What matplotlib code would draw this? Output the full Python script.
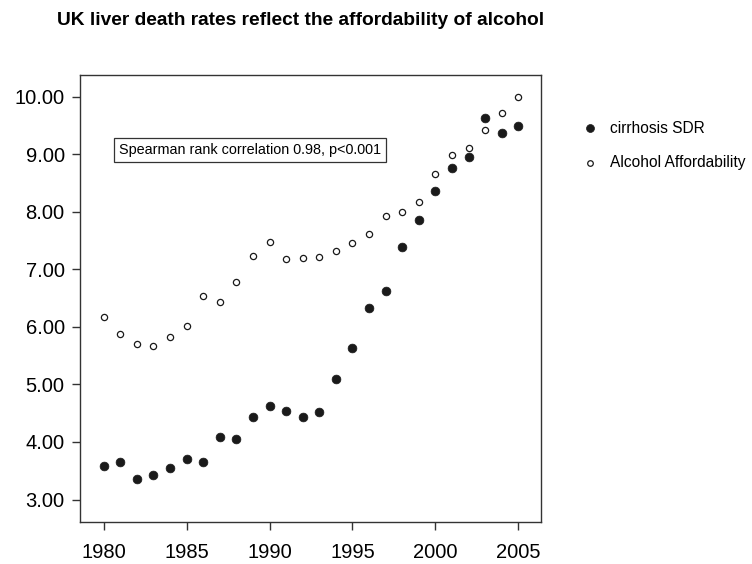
import matplotlib
matplotlib.use('Agg')
import matplotlib.pyplot as plt

# Dados
anos = list(range(1980, 2006))
cirrose_sdr = [3.59, 3.66, 3.35, 3.42, 3.55, 3.71, 3.66, 4.08, 4.05, 4.43,
               4.63, 4.53, 4.44, 4.52, 5.09, 5.63, 6.33, 6.63, 7.38, 7.86,
               8.36, 8.76, 8.95, 9.62, 9.37, 9.49]
acessibilidade_alcool = [6.17, 5.87, 5.70, 5.66, 5.83, 6.02, 6.53, 6.43, 6.77, 7.23,
                         7.47, 7.18, 7.20, 7.21, 7.32, 7.46, 7.62, 7.92, 7.99, 8.16,
                         8.66, 8.99, 9.10, 9.42, 9.71, 10.00]
yticks = [3, 4, 5, 6, 7, 8, 9, 10]
xticks = [1980, 1985, 1990, 1995, 2000, 2005]

plt.rcParams['font.family'] = ['Liberation Sans', 'DejaVu Sans']

fig = plt.figure(figsize=(7.52, 5.64), dpi=100)
ax = fig.add_axes([0.1064, 0.0745, 0.6126, 0.7931])

cor = '#1a1a1a'
ax.scatter(anos, cirrose_sdr, s=40, color=cor, edgecolors=cor, linewidths=0.5,
           label='cirrhosis SDR', zorder=3)
ax.scatter(anos, acessibilidade_alcool, s=20, facecolors='white', edgecolors=cor,
           linewidths=0.9, label='Alcohol Affordability', zorder=3)

ax.set_xlim(1978.57, 2006.35)
ax.set_ylim(2.61, 10.38)
ax.set_xticks(xticks)
ax.set_yticks(yticks)
ax.set_yticklabels([f'{v:.2f}' for v in yticks])
ax.tick_params(axis='both', direction='out', length=6, width=1, color='#333333',
               labelsize=14.5, pad=5)
ax.tick_params(axis='x', pad=9)
for s in ax.spines.values():
    s.set_color('#333333')
    s.set_linewidth(1)

# Caixa com a correlacao
ax.text(1980.92, 9.07, 'Spearman rank correlation 0.98, p<0.001', fontsize=10.4,
        va='center', ha='left',
        bbox=dict(boxstyle='square,pad=0.33', facecolor='white', edgecolor='#333333', linewidth=0.9))

fig.text(0.400, 0.9645, 'UK liver death rates reflect the affordability of alcohol',
         fontsize=13.8, fontweight='bold', ha='center', va='center')

fig.legend(loc='upper left', bbox_to_anchor=(0.754, 0.80), frameon=False, fontsize=11.2,
           handletextpad=0.25, labelspacing=1.25, markerscale=0.9, borderpad=0)

plt.savefig('out.png', dpi=100)
